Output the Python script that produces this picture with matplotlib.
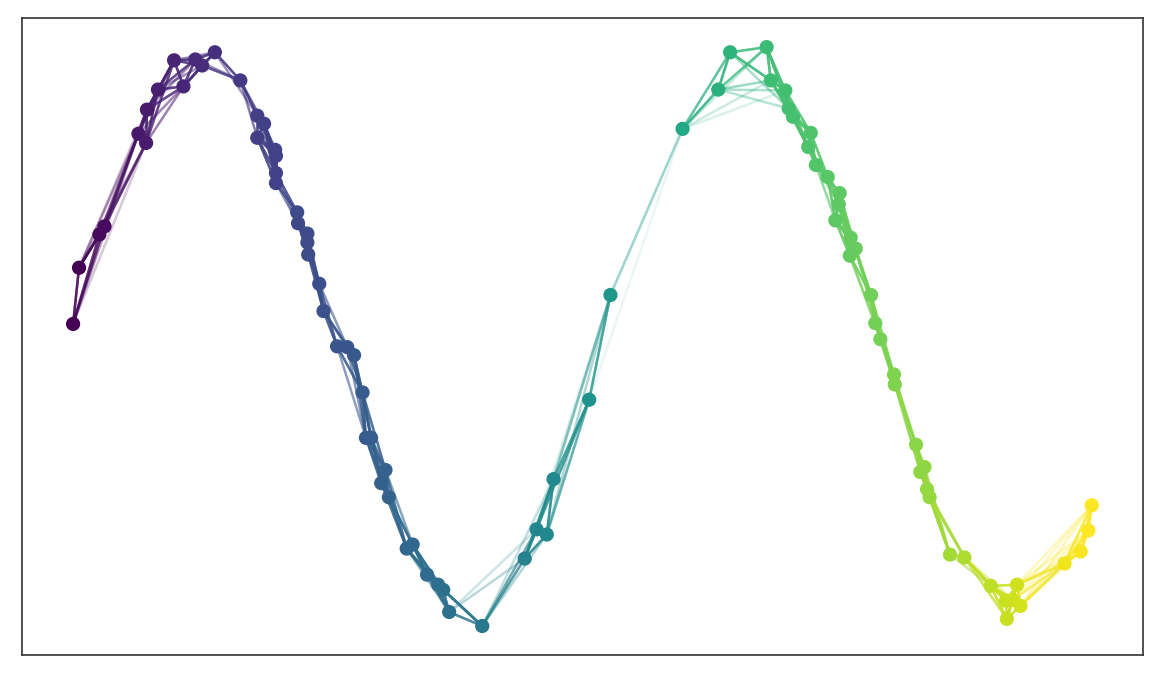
import numpy as np
import matplotlib
matplotlib.use("Agg")
import matplotlib.pyplot as plt

# sample positions, y is roughly sin(x)
xs = [0.00, 0.07, 0.31, 0.37, 0.77, 0.86, 0.87, 1.00, 1.19, 1.30,
      1.44, 1.52, 1.67, 1.97, 2.17, 2.25, 2.17, 2.38, 2.39, 2.39,
      2.39, 2.64, 2.65, 2.76, 2.76, 2.77, 2.90, 2.95, 3.11, 3.23,
      3.31, 3.41, 3.45, 3.51, 3.68, 3.63, 3.72, 3.93, 4.00, 4.17,
      4.30, 4.36, 4.43, 4.82, 5.32, 5.46, 5.58, 5.66, 6.08, 6.33,
      7.18, 7.60, 7.74, 8.17, 8.22, 8.39, 8.43, 8.48, 8.69, 8.66,
      8.75, 8.89, 9.03, 9.02, 8.98, 9.16, 9.22, 9.15, 9.40, 9.45,
      9.51, 9.67, 9.68, 9.93, 10.03, 9.98, 10.06, 10.09, 10.33, 10.50,
      10.81, 11.12, 10.99, 11.07, 11.16, 11.00, 11.68, 11.87, 11.96, 12.00]
ys = [0.053, 0.249, 0.365, 0.393, 0.716, 0.684, 0.800, 0.870, 0.972, 0.881,
      0.975, 0.954, 1.000, 0.902, 0.779, 0.751, 0.702, 0.660, 0.639, 0.579,
      0.544, 0.442, 0.404, 0.368, 0.337, 0.295, 0.193, 0.098, -0.025, -0.028,
      -0.056, -0.186, -0.344, -0.344, -0.456, -0.502, -0.551, -0.730, -0.716, -0.821,
      -0.856, -0.874, -0.951, -1.000, -0.765, -0.663, -0.681, -0.488, -0.211, 0.154,
      0.733, 0.870, 1.000, 1.018, 0.902, 0.867, 0.804, 0.775, 0.719, 0.670,
      0.607, 0.565, 0.509, 0.470, 0.414, 0.354, 0.316, 0.291, 0.154, 0.056,
      0.000, -0.123, -0.158, -0.368, -0.446, -0.463, -0.523, -0.551, -0.751, -0.761,
      -0.860, -0.856, -0.912, -0.909, -0.930, -0.975, -0.782, -0.740, -0.667, -0.579]

k = 6
sigma = 1.0

pts = np.column_stack([xs, ys])
cmap = plt.get_cmap("viridis")
norm = plt.Normalize(min(xs), max(xs))

fig = plt.figure(figsize=(11.66, 6.99), dpi=100)
ax = fig.add_axes([0.019, 0.063, 0.961, 0.911])

# knn graph, edge alpha from gaussian weight
d = np.sqrt(((pts[:, None, :] - pts[None, :, :]) ** 2).sum(-1))
for i in range(len(pts)):
    nn = np.argsort(d[i])[1:k + 1]
    for j in nn:
        w = np.exp(-d[i, j] ** 2 / sigma ** 2)
        ax.plot([pts[i, 0], pts[j, 0]], [pts[i, 1], pts[j, 1]],
                color=cmap(norm(xs[i])), alpha=w * 0.7, lw=1.8, zorder=1)

ax.scatter(xs, ys, c=xs, cmap="viridis", norm=norm, s=85, zorder=2)

ax.set_xticks([])
ax.set_yticks([])
for sp in ax.spines.values():
    sp.set_color("#333333")
    sp.set_linewidth(1.2)

fig.savefig("out.png", dpi=100)
